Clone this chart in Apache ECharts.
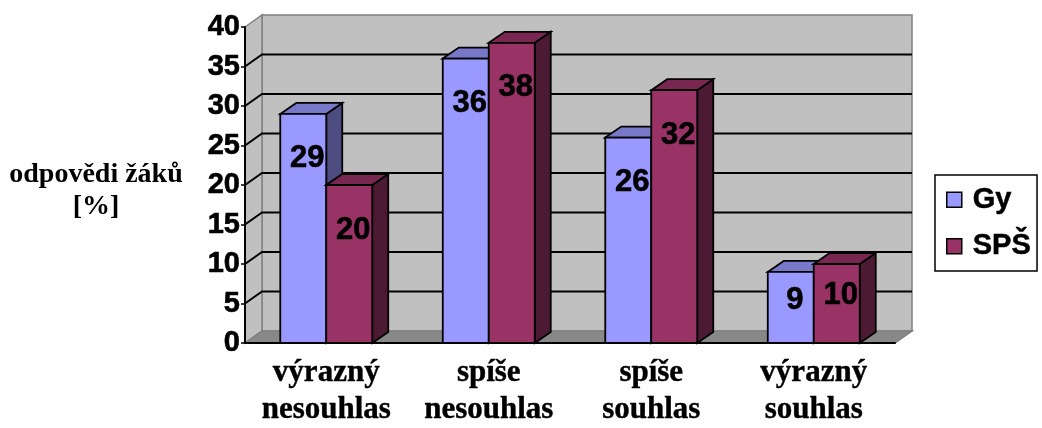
<!DOCTYPE html>
<html>
<head>
<meta charset="utf-8">
<script src="https://cdn.jsdelivr.net/npm/echarts@6/dist/echarts.min.js"></script>
<style>
  html, body { margin: 0; padding: 0; background: #fff; }
  #chart { width: 1042px; height: 428px; }
</style>
</head>
<body>
<div id="chart"></div>
<script>
// Answer categories (x axis)
const categories = ['výrazný\nnesouhlas', 'spíše\nnesouhlas', 'spíše\nsouhlas', 'výrazný\nsouhlas'];
// Share of pupils' answers in percent
const gyValues = [29, 36, 26, 9];
const spsValues = [20, 38, 32, 10];
// Value axis ticks
const yTicks = [0, 5, 10, 15, 20, 25, 30, 35, 40];
const seriesNames = ['Gy', 'SPŠ'];

// Pseudo-3D look
const WALL_DX = 17, WALL_DY = 12;
const BAR_DX = 16, BAR_DY = 11;
const BAR_RATIO = 0.283;
const SANS = '"Liberation Sans", Arial, sans-serif';
const SERIF = '"Liberation Serif", "Times New Roman", serif';

const palette = [
  { front: '#9999FF', top: '#7878C8', side: '#4C4C80' },
  { front: '#993366', top: '#782850', side: '#4C1A33' }
];

function renderBackdrop(params, api) {
  const cs = params.coordSys;
  const xL = cs.x, xR = cs.x + cs.width;
  const y0 = api.coord([0, yTicks[0]])[1];
  const yTop = api.coord([0, yTicks[yTicks.length - 1]])[1];
  const edge = { stroke: '#808080', lineWidth: 1.5 };
  const children = [
    { type: 'rect', shape: { x: xL + WALL_DX, y: yTop - WALL_DY, width: xR - xL, height: y0 - yTop },
      style: Object.assign({ fill: '#C0C0C0' }, edge) },
    { type: 'polygon', shape: { points: [[xL, yTop], [xL + WALL_DX, yTop - WALL_DY], [xL + WALL_DX, y0 - WALL_DY], [xL, y0]] },
      style: Object.assign({ fill: '#C0C0C0' }, edge) },
    { type: 'polygon', shape: { points: [[xL, y0], [xR, y0], [xR + WALL_DX, y0 - WALL_DY], [xL + WALL_DX, y0 - WALL_DY]] },
      style: Object.assign({ fill: '#888888' }, edge) }
  ];
  yTicks.slice(1, -1).forEach(function (t) {
    const y = api.coord([0, t])[1];
    children.push({
      type: 'polyline',
      shape: { points: [[xL, y], [xL + WALL_DX, y - WALL_DY], [xR + WALL_DX, y - WALL_DY]] },
      style: { stroke: '#000', lineWidth: 2, fill: null }
    });
  });
  return { type: 'group', children: children };
}

function barRenderer(idx) {
  const c = palette[idx];
  return function (params, api) {
    const i = api.value(0), v = api.value(1);
    const top = api.coord([i, v]);
    const base = api.coord([i, 0]);
    const band = api.size([1, 0])[0];
    const w = band * BAR_RATIO;
    const x0 = top[0] - w + idx * w;
    const x1 = x0 + w;
    const yT = top[1], yB = base[1];
    const line = { stroke: '#000', lineWidth: 1.8, lineJoin: 'miter' };
    const drop = Math.min(45, (yB - yT) * 0.4);
    return {
      type: 'group',
      children: [
        { type: 'polygon', shape: { points: [[x1, yT], [x1 + BAR_DX, yT - BAR_DY], [x1 + BAR_DX, yB - BAR_DY], [x1, yB]] },
          style: Object.assign({ fill: c.side }, line) },
        { type: 'polygon', shape: { points: [[x0, yT], [x0 + BAR_DX, yT - BAR_DY], [x1 + BAR_DX, yT - BAR_DY], [x1, yT]] },
          style: Object.assign({ fill: c.top }, line) },
        { type: 'rect', shape: { x: x0, y: yT, width: w, height: yB - yT },
          style: Object.assign({ fill: c.front }, line) },
        { type: 'text', x: (x0 + x1) / 2 + 4, y: yT + drop,
          style: { text: String(v), align: 'center', verticalAlign: 'middle',
                   font: 'bold 31px ' + SANS, fill: '#000',
                   stroke: '#000', lineWidth: 0.6 } }
      ]
    };
  };
}

const chart = echarts.init(document.getElementById('chart'), null, { renderer: 'canvas' });

chart.setOption({
  animation: false,
  backgroundColor: '#fff',
  grid: { left: 245, right: 147, top: 27, bottom: 81 },
  xAxis: {
    type: 'category',
    data: categories,
    axisLine: { lineStyle: { color: '#000', width: 2 } },
    axisTick: { inside: true, length: 7, lineStyle: { color: '#000', width: 1.5 } },
    axisLabel: { interval: 0, margin: 11, color: '#000', fontFamily: SERIF, fontWeight: 'bold',
                 fontSize: 31, lineHeight: 37, textBorderColor: '#000', textBorderWidth: 0.4 },
    splitLine: { show: false }
  },
  yAxis: {
    type: 'value',
    min: 0, max: 40, interval: 5,
    axisLine: { show: true, lineStyle: { color: '#000', width: 2 } },
    axisTick: { show: true, length: 4, lineStyle: { color: '#000', width: 1.5 } },
    axisLabel: { margin: 5, color: '#000', fontFamily: SANS, fontWeight: 'bold', fontSize: 29,
                 textBorderColor: '#000', textBorderWidth: 0.6 },
    splitLine: { show: false }
  },
  legend: {
    orient: 'vertical',
    left: 935, top: 175,
    padding: [10, 6, 10, 11],
    itemGap: 17,
    itemWidth: 15, itemHeight: 15,
    borderColor: '#000', borderWidth: 1.5,
    textStyle: { color: '#000', fontFamily: SANS, fontWeight: 'bold', fontSize: 29, lineHeight: 29,
                 padding: [0, 0, 0, 6], textBorderColor: '#000', textBorderWidth: 0.5 },
    data: seriesNames.map(function (n, k) {
      return { name: n, icon: 'rect',
               itemStyle: { color: palette[k].front, borderColor: '#000', borderWidth: 1.5 } };
    })
  },
  graphic: [{
    type: 'text', x: 96, y: 191,
    style: { text: 'odpovědi žáků\n[%]', align: 'center', verticalAlign: 'middle',
             font: 'bold 28px ' + SERIF, lineHeight: 32, fill: '#000' }
  }],
  series: [
    { type: 'custom', name: 'backdrop', z: -1, clip: false, silent: true,
      renderItem: renderBackdrop, data: [[0, 0]] },
    { type: 'custom', name: seriesNames[0], clip: false, itemStyle: { color: palette[0].front },
      renderItem: barRenderer(0), encode: { x: 0, y: 1 },
      data: gyValues.map(function (v, i) { return [i, v]; }) },
    { type: 'custom', name: seriesNames[1], clip: false, itemStyle: { color: palette[1].front },
      renderItem: barRenderer(1), encode: { x: 0, y: 1 },
      data: spsValues.map(function (v, i) { return [i, v]; }) }
  ]
});
</script>
</body>
</html>
